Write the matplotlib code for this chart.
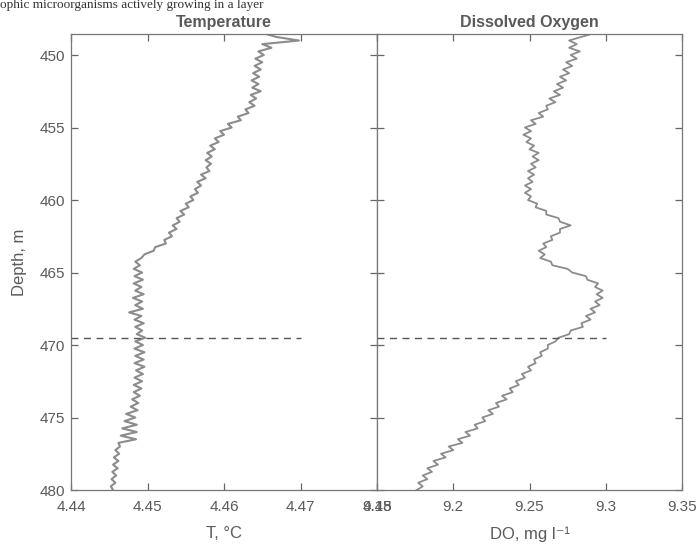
import numpy as np
import matplotlib
matplotlib.use("Agg")
import matplotlib.pyplot as plt

# ---------------- data ----------------
depth_start = 448.5
depth_step = 0.25

temperature = [
    4.4652, 4.4668, 4.4698, 4.4650, 4.4662, 4.4645, 4.4652, 4.4641, 4.4650, 4.4640,
    4.4648, 4.4638, 4.4646, 4.4636, 4.4645, 4.4637, 4.4648, 4.4635, 4.4642, 4.4633,
    4.4640, 4.4628, 4.4632, 4.4618, 4.4622, 4.4605, 4.4610, 4.4595, 4.4600, 4.4588,
    4.4593, 4.4582, 4.4588, 4.4578, 4.4584, 4.4576, 4.4583, 4.4577, 4.4581, 4.4570,
    4.4576, 4.4565, 4.4570, 4.4562, 4.4566, 4.4556, 4.4560, 4.4550, 4.4554, 4.4543,
    4.4548, 4.4538, 4.4542, 4.4533, 4.4538, 4.4528, 4.4532, 4.4522, 4.4524, 4.4510,
    4.4508, 4.4496, 4.4492, 4.4484, 4.4490, 4.4482, 4.4493, 4.4483, 4.4494, 4.4482,
    4.4492, 4.4484, 4.4495, 4.4481, 4.4493, 4.4484, 4.4494, 4.4476, 4.4492, 4.4483,
    4.4495, 4.4484, 4.4493, 4.4486, 4.4497, 4.4484, 4.4494, 4.4483, 4.4496, 4.4484,
    4.4495, 4.4483, 4.4496, 4.4485, 4.4494, 4.4483, 4.4493, 4.4482, 4.4492, 4.4482,
    4.4490, 4.4480, 4.4488, 4.4478, 4.4487, 4.4472, 4.4484, 4.4470, 4.4486, 4.4467,
    4.4486, 4.4465, 4.4485, 4.4462, 4.4464, 4.4458, 4.4463, 4.4456, 4.4462, 4.4455,
    4.4461, 4.4454, 4.4459, 4.4453, 4.4458, 4.4452, 4.4455,
]

dissolved_oxygen = [
    9.292, 9.284, 9.276, 9.281, 9.276, 9.283, 9.277, 9.281, 9.274, 9.278,
    9.272, 9.276, 9.270, 9.274, 9.268, 9.272, 9.266, 9.270, 9.263, 9.267,
    9.261, 9.262, 9.256, 9.259, 9.251, 9.254, 9.247, 9.251, 9.246, 9.251,
    9.248, 9.253, 9.250, 9.256, 9.252, 9.256, 9.251, 9.254, 9.249, 9.253,
    9.249, 9.252, 9.247, 9.251, 9.247, 9.251, 9.249, 9.255, 9.254, 9.261,
    9.261, 9.269, 9.270, 9.277, 9.270, 9.270, 9.264, 9.265, 9.259, 9.261,
    9.256, 9.260, 9.257, 9.264, 9.265, 9.275, 9.278, 9.287, 9.288, 9.295,
    9.293, 9.298, 9.294, 9.298, 9.293, 9.296, 9.290, 9.293, 9.287, 9.290,
    9.284, 9.285, 9.277, 9.276, 9.269, 9.267, 9.262, 9.262, 9.257, 9.258,
    9.253, 9.254, 9.249, 9.251, 9.245, 9.247, 9.241, 9.243, 9.237, 9.239,
    9.232, 9.235, 9.228, 9.230, 9.223, 9.226, 9.219, 9.221, 9.214, 9.216,
    9.208, 9.211, 9.203, 9.206, 9.197, 9.200, 9.192, 9.195, 9.187, 9.190,
    9.183, 9.186, 9.180, 9.183, 9.177, 9.180, 9.176,
]

boundary_depth = 469.5
temp_line_x = [4.44, 4.47]
do_line_x = [9.15, 9.30]

depth_ticks = [450, 455, 460, 465, 470, 475, 480]
temp_ticks = [4.44, 4.45, 4.46, 4.47, 4.48]
temp_ticklabels = ["4.44", "4.45", "4.46", "4.47", "4.48"]
do_ticks = [9.15, 9.2, 9.25, 9.3, 9.35]
do_ticklabels = ["9.15", "9.2", "9.25", "9.3", "9.35"]

# ---------------- figure ----------------
plt.rcParams["font.family"] = ["Liberation Sans", "DejaVu Sans"]
INK = "#5a5a5a"
TRACE = "#8c8c8c"

depth = depth_start + depth_step * np.arange(len(temperature))
depth_do = depth_start + depth_step * np.arange(len(dissolved_oxygen))

fig = plt.figure(figsize=(7.0, 5.45), dpi=100)
ax1 = fig.add_axes([71 / 700, 1 - 490 / 545, 306 / 700, 456 / 545])
ax2 = fig.add_axes([377 / 700, 1 - 490 / 545, 305 / 700, 456 / 545])

ax1.plot(temperature, depth, color=TRACE, lw=1.5)
ax1.plot(temp_line_x, [boundary_depth, boundary_depth], color="#555555",
         lw=1.0, ls=(0, (5, 4)))
ax2.plot(dissolved_oxygen, depth_do, color=TRACE, lw=1.3)
ax2.plot(do_line_x, [boundary_depth, boundary_depth], color="#555555",
         lw=1.0, ls=(0, (5, 4)))

for ax in (ax1, ax2):
    ax.set_ylim(480, 448.55)
    ax.set_yticks(depth_ticks)
    for s in ax.spines.values():
        s.set_color("#777777")
        s.set_linewidth(0.9)
    ax.tick_params(direction="in", length=5, width=0.9, color="#666666",
                   top=True, right=True, labelsize=11, labelcolor=INK, pad=7)

ax1.set_xlim(4.44, 4.48)
ax1.set_xticks(temp_ticks)
ax1.set_xticklabels(temp_ticklabels)
ax1.set_yticklabels([str(t) for t in depth_ticks])
ax1.tick_params(axis="y", pad=4)

ax2.set_xlim(9.15, 9.35)
ax2.set_xticks(do_ticks)
ax2.set_xticklabels(do_ticklabels)
ax2.set_yticklabels([])

ax1.set_title("Temperature", fontsize=11.5, fontweight="bold", color=INK, pad=5)
ax2.set_title("Dissolved Oxygen", fontsize=11.5, fontweight="bold", color=INK, pad=5)
ax1.set_ylabel("Depth, m", fontsize=12, color=INK, labelpad=9)
ax1.set_xlabel("T, \u00b0C", fontsize=12, color=INK, labelpad=9)
ax2.set_xlabel("DO, mg l\u207b\u00b9", fontsize=12, color=INK, labelpad=9)

fig.text(0.0, 1 - 8 / 545, "ophic microorganisms actively growing in a layer",
         family=["Liberation Serif", "DejaVu Serif"], fontsize=9.5, color="#333333",
         va="baseline", ha="left")

fig.savefig("out.png", dpi=100)
